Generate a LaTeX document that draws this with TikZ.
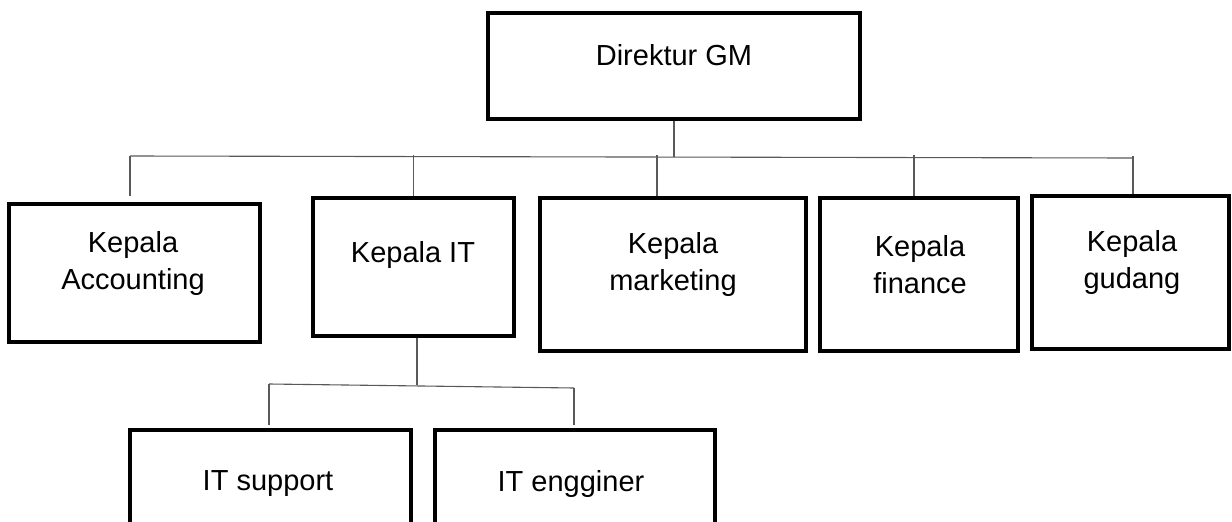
\documentclass[tikz,border=0pt]{standalone}
\usepackage{fontspec}
\setmainfont{Liberation Sans}
\definecolor{conn}{gray}{0.35}
\tikzset{
  box/.style={draw=black, line width=3.2pt, line cap=round, line join=miter, inner sep=0pt, fill=white},
  lbl/.style={align=center, inner sep=0pt, font=\fontsize{29}{37}\selectfont},
  conline/.style={draw=conn, line width=1.1pt}
}
\begin{document}
\begin{tikzpicture}[x=1pt,y=-1pt]
\clip (0,0) rectangle (1232,522);
\fill[white] (0,0) rectangle (1232,522);
% boxes
\node[box, minimum width=372pt, minimum height=106pt] (dir) at (674,66) {};
\node[box, minimum width=251pt, minimum height=138pt] (acc) at (134.5,273) {};
\node[box, minimum width=201pt, minimum height=138pt] (it) at (413.5,267) {};
\node[box, minimum width=266pt, minimum height=153pt] (mkt) at (673,274.5) {};
\node[box, minimum width=198pt, minimum height=153pt] (fin) at (919,274.5) {};
\node[box, minimum width=197pt, minimum height=153pt] (gud) at (1130.5,272.5) {};
\node[box, minimum width=281pt, minimum height=130pt] (sup) at (270.5,495) {};
\node[box, minimum width=280pt, minimum height=130pt] (eng) at (575,495) {};
% texts
\node[lbl] (dirt) at (674,55) {Direktur GM};
\node[lbl] (acct) at (133,263.5) {Kepala\\Accounting};
\node[lbl] (itt) at (413,255) {Kepala IT};
\node[lbl] (mktt) at (673,264.5) {Kepala\\marketing};
\node[lbl] (fint) at (920,264.5) {Kepala\\finance};
\node[lbl] (gudt) at (1132,262.5) {Kepala\\gudang};
\node[lbl] (supt) at (268,484) {IT support};
\node[lbl] (engt) at (571,484) {IT engginer};
% connectors
\coordinate (bus) at (674,157);
\coordinate (busL) at (130,156);
\coordinate (busR) at (1133,158);
\draw[conline] (dir.south) -- (bus);
\draw[conline] (busL) -- (busR);
\draw[conline] ([xshift=-4.5pt]acc.north) ++(0,-6) -- (130,156);
\draw[conline] (it.north) -- ++(0,-41);
\draw[conline] ([xshift=-16pt]mkt.north) -- ++(0,-41);
\draw[conline] ([xshift=-5pt]fin.north) -- ++(0,-41);
\draw[conline] ([xshift=2.5pt]gud.north) -- ++(0,-38);
\coordinate (itbus) at (417,385);
\coordinate (itbusL) at (269,384);
\coordinate (itbusR) at (574,388);
\draw[conline] ([xshift=3.5pt]it.south) -- (itbus);
\draw[conline] (itbusL) -- (itbusR);
\draw[conline] ([xshift=-1.5pt]sup.north) ++(0,-3) -- (itbusL);
\draw[conline] ([xshift=-1pt]eng.north) ++(0,-3) -- (itbusR);
\end{tikzpicture}
\end{document}
